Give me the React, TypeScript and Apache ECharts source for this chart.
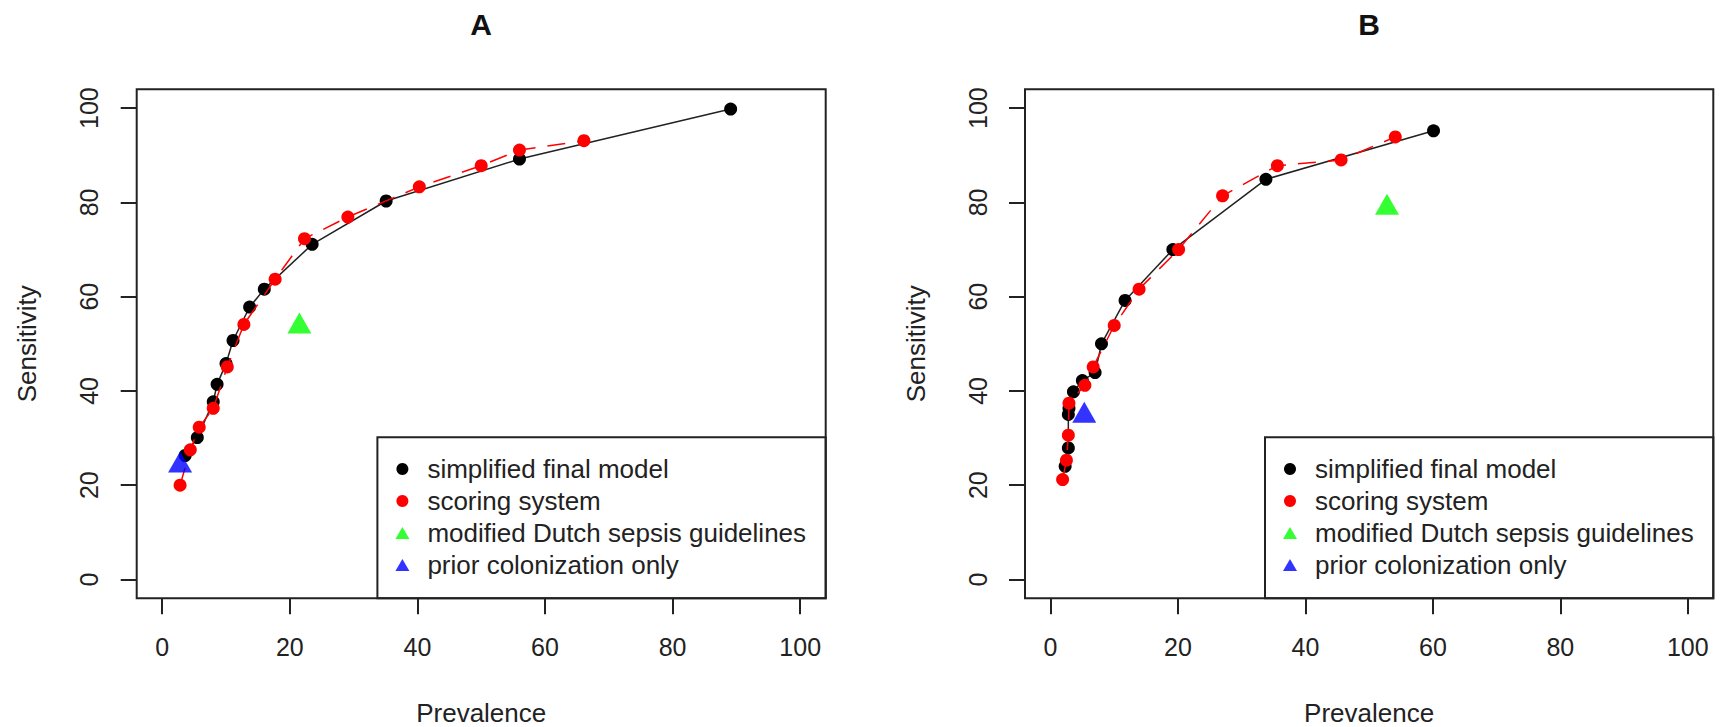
import React, { useEffect, useRef } from "react";
import * as echarts from "echarts";

// ---------- data ----------
const xTickValues = [0, 20, 40, 60, 80, 100];
const yTickValues = [0, 20, 40, 60, 80, 100];
const axisMin = -4;
const axisMax = 104;
const seriesNames = [
  "simplified final model",
  "scoring system",
  "modified Dutch sepsis guidelines",
  "prior colonization only",
];
const panelTitles = ["A", "B"];
const xAxisTitle = "Prevalence";
const yAxisTitle = "Sensitivity";

// Panel A
const aSimplified = [
  [3.6, 26.3], [5.5, 30.1], [8.0, 37.7], [8.6, 41.4], [10.0, 45.8], [11.1, 50.7],
  [13.7, 57.8], [16.0, 61.6], [23.5, 71.1], [35.1, 80.3], [56.0, 89.2], [89.1, 99.8],
];
const aScoring = [
  [2.8, 20.0], [4.4, 27.5], [5.8, 32.3], [8.0, 36.3], [10.2, 45.1], [12.8, 54.1],
  [17.7, 63.7], [22.3, 72.3], [29.1, 76.9], [40.3, 83.3], [50.0, 87.8], [56.0, 91.1], [66.1, 93.1],
];
const aDutch = [[21.5, 54.4]];
const aPrior = [[2.8, 24.9]];

// Panel B
const bSimplified = [
  [2.3, 24.0], [2.8, 27.9], [2.8, 35.0], [2.9, 36.3], [3.6, 39.8], [5.0, 42.2],
  [7.0, 43.9], [8.0, 50.0], [11.7, 59.2], [19.2, 70.0], [33.8, 84.9], [60.1, 95.2],
];
const bScoring = [
  [1.9, 21.2], [2.5, 25.3], [2.8, 30.6], [2.9, 37.4], [5.4, 41.2], [6.7, 45.1],
  [10.0, 53.9], [13.9, 61.6], [20.1, 70.0], [27.0, 81.4], [35.6, 87.8], [45.6, 89.0], [54.1, 93.9],
];
const bDutch = [[52.8, 79.6]];
const bPrior = [[5.3, 35.5]];

const panelData = [
  [aSimplified, aScoring, aDutch, aPrior],
  [bSimplified, bScoring, bDutch, bPrior],
];

// ---------- layout ----------
const FONT = "'Liberation Sans', Arial, Helvetica, sans-serif";
const INK = "#222";
const frames = [
  { l: 136.7, t: 89.3, r: 825.7, b: 598.3 },
  { l: 1025, t: 89.3, r: 1713.3, b: 598.3 },
];
const legendBoxLeft = [377.4, 1265];
const legendBoxTop = 437.3;

export default function App() {
  const ref = useRef<HTMLDivElement>(null);

  useEffect(() => {
    if (!ref.current) return;
    const chart = echarts.init(ref.current, null, { renderer: "svg" });

    const gridsOpt: any[] = [];
    const xAxes: any[] = [];
    const yAxes: any[] = [];
    const series: any[] = [];
    const legends: any[] = [];
    const graphics: any[] = [];

    panelTitles.forEach((title, i) => {
      const f = frames[i];

      gridsOpt.push({
        left: f.l,
        top: f.t,
        width: f.r - f.l,
        height: f.b - f.t,
        show: true,
        borderColor: INK,
        borderWidth: 2,
        backgroundColor: "transparent",
        containLabel: false,
      });

      xAxes.push({
        gridIndex: i,
        type: "value",
        position: "bottom",
        min: axisMin,
        max: axisMax,
        axisLine: { show: false, onZero: false },
        axisTick: {
          show: true,
          inside: false,
          length: 16,
          customValues: xTickValues,
          lineStyle: { color: INK, width: 2 },
        },
        axisLabel: {
          color: INK,
          fontSize: 25,
          fontFamily: FONT,
          margin: 36,
          customValues: xTickValues,
        },
        splitLine: { show: false },
      });
      yAxes.push({
        gridIndex: i,
        type: "value",
        position: "left",
        min: axisMin,
        max: axisMax,
        axisLine: { show: false, onZero: false },
        axisTick: {
          show: true,
          inside: false,
          length: 16,
          customValues: yTickValues,
          lineStyle: { color: INK, width: 2 },
        },
        axisLabel: {
          color: INK,
          fontSize: 25,
          fontFamily: FONT,
          margin: 35,
          rotate: 90,
          customValues: yTickValues,
        },
        splitLine: { show: false },
      });

      const [simp, score, dutch, prior] = panelData[i];
      series.push({
        type: "line",
        name: seriesNames[0],
        xAxisIndex: i,
        yAxisIndex: i,
        data: simp,
        symbol: "circle",
        symbolSize: 13,
        showSymbol: true,
        itemStyle: { color: "#000000" },
        lineStyle: { color: INK, width: 1.5 },
        z: 2,
      });
      series.push({
        type: "line",
        name: seriesNames[1],
        xAxisIndex: i,
        yAxisIndex: i,
        data: score,
        symbol: "circle",
        symbolSize: 13,
        showSymbol: true,
        itemStyle: { color: "#ff0000" },
        lineStyle: { color: "#ff0000", width: 1.5, type: [18, 12] },
        z: 3,
      });
      series.push({
        type: "scatter",
        name: seriesNames[2],
        xAxisIndex: i,
        yAxisIndex: i,
        data: dutch,
        symbol: "triangle",
        symbolSize: [24, 21],
        itemStyle: { color: "#00ff00" },
        z: 4,
      });
      series.push({
        type: "scatter",
        name: seriesNames[3],
        xAxisIndex: i,
        yAxisIndex: i,
        data: prior,
        symbol: "triangle",
        symbolSize: [24, 21],
        itemStyle: { color: "#0000ff" },
        z: 4,
      });

      legends.push({
        orient: "vertical",
        left: legendBoxLeft[i] + 25 - 7,
        top: 456,
        padding: 0,
        itemWidth: 14,
        itemHeight: 12,
        itemGap: 6,
        selectedMode: false,
        data: [
          { name: seriesNames[0], icon: "circle" },
          { name: seriesNames[1], icon: "circle" },
          { name: seriesNames[2], icon: "triangle" },
          { name: seriesNames[3], icon: "triangle" },
        ],
        textStyle: {
          fontSize: 26,
          color: INK,
          fontFamily: FONT,
          lineHeight: 26,
          padding: [0, 0, 0, 13],
        },
      });

      // legend box
      graphics.push({
        type: "rect",
        shape: {
          x: legendBoxLeft[i],
          y: legendBoxTop,
          width: f.r - legendBoxLeft[i],
          height: f.b - legendBoxTop,
        },
        style: { fill: "none", stroke: INK, lineWidth: 2 },
        silent: true,
      });
      // title
      graphics.push({
        type: "text",
        x: (f.l + f.r) / 2,
        y: 24,
        style: {
          text: title,
          fontSize: 30,
          fontWeight: "bold",
          fontFamily: FONT,
          fill: "#111",
          align: "center",
          verticalAlign: "middle",
        },
      });
      // x axis title
      graphics.push({
        type: "text",
        x: (f.l + f.r) / 2,
        y: 713,
        style: {
          text: xAxisTitle,
          fontSize: 26,
          fontFamily: FONT,
          fill: INK,
          align: "center",
          verticalAlign: "middle",
        },
      });
      // y axis title
      graphics.push({
        type: "text",
        x: f.l - 109.3,
        y: (f.t + f.b) / 2,
        rotation: Math.PI / 2,
        style: {
          text: yAxisTitle,
          fontSize: 26,
          fontFamily: FONT,
          fill: INK,
          align: "center",
          verticalAlign: "middle",
        },
      });
    });

    chart.setOption({
      animation: false,
      backgroundColor: "#ffffff",
      grid: gridsOpt,
      xAxis: xAxes,
      yAxis: yAxes,
      legend: legends,
      series,
      graphic: { elements: graphics },
    });

    return () => chart.dispose();
  }, []);

  return (
    <div
      ref={ref}
      style={{ position: "absolute", left: 0, top: 0, width: 1720, height: 727 }}
    />
  );
}
